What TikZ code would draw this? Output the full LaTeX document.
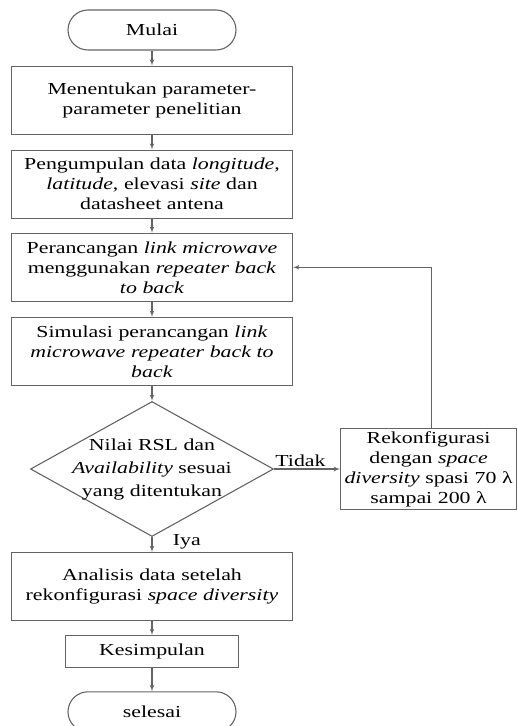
\documentclass[tikz,border=0pt]{standalone}
\usepackage{fontspec}
\setmainfont[FakeStretch=1.3]{Liberation Serif}
\usetikzlibrary{shapes,arrows,positioning}
\definecolor{linegray}{RGB}{100,100,100}

\begin{document}
\begin{tikzpicture}[x=1pt, y=1pt, node distance=15pt, font=\fontsize{16.8}{20}\selectfont]
    % Define styles
    \tikzstyle{terminal}=[rectangle,rounded corners=20pt,draw=linegray,line width=1.1pt,minimum width=168pt,minimum height=40pt]
    \tikzstyle{process}=[rectangle,draw=linegray,line width=1.1pt,text width=271pt,align=center,inner sep=5pt,minimum height=68pt]
    \tikzstyle{decision}=[diamond,draw=linegray,line width=1.1pt,minimum width=243pt,minimum height=135pt,inner sep=0pt]
    \tikzstyle{line}=[draw=linegray, line width=1.1pt, -latex']

    \useasboundingbox (0,0) rectangle (518,-726);

    % Main flow
    \node [terminal] (mulai) at (152,-30) {Mulai};
    \node [process, below=of mulai] (parameter) {Menentukan parameter-\\parameter penelitian};
    \node [process, below=of parameter] (pengumpulan) {Pengumpulan data \textit{longitude},\\\textit{latitude}, elevasi \textit{site} dan\\datasheet antena};
    \node [process, below=14pt of pengumpulan] (perancangan) {Perancangan \textit{link microwave}\\menggunakan \textit{repeater back}\\\textit{to back}};
    \node [process, below=of perancangan] (simulasi) {Simulasi perancangan \textit{link}\\\textit{microwave repeater back to}\\\textit{back}};
    \node [decision, below=of simulasi, label={[align=center,font=\fontsize{16.8}{23}\selectfont]center:Nilai RSL dan\\\textit{Availability} sesuai\\yang ditentukan}] (cek) {};
    \node [process, below=15pt of cek] (analisis) {Analisis data setelah\\rekonfigurasi \textit{space diversity}};
    \node [process, text width=163pt, minimum height=32pt, below=14pt of analisis] (kesimpulan) {Kesimpulan};
    \node [terminal, below=23pt of kesimpulan] (selesai) {selesai};

    % Reconfiguration branch
    \node [process, text width=172pt, minimum height=81pt, inner sep=2pt, right=66pt of cek] (rekonfigurasi) {Rekonfigurasi\\dengan \textit{space}\\\textit{diversity} spasi 70 λ\\sampai 200 λ};

    % Define connections
    \path [line] (mulai) -- (parameter);
    \path [line] (parameter) -- (pengumpulan);
    \path [line] (pengumpulan) -- (perancangan);
    \path [line] (perancangan) -- (simulasi);
    \path [line] (simulasi) -- (cek);
    \path [line] (cek) -- node [right=17pt, pos=0.3] {Iya} (analisis);
    \path [line] (cek) -- node [above, pos=0.4, inner sep=2pt] {Tidak} (rekonfigurasi);
    \path [line] ([xshift=3pt]rekonfigurasi.north) |- (perancangan.east);
    \path [line] (analisis) -- (kesimpulan);
    \path [line] (kesimpulan) -- (selesai);
\end{tikzpicture}
\end{document}
